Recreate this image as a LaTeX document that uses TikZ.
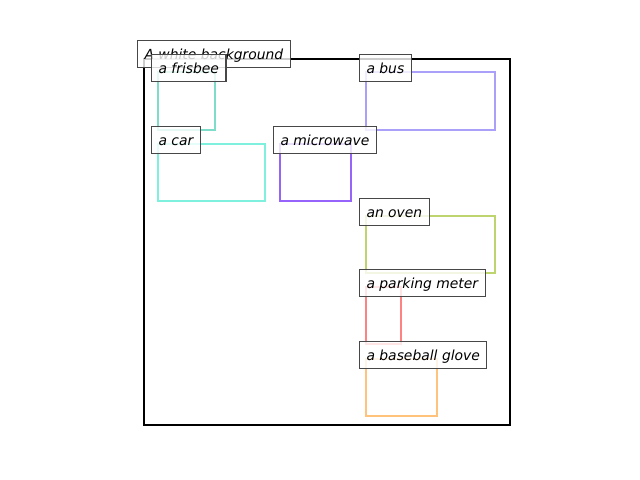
\documentclass[tikz,border=0pt]{standalone}
\usepackage{xcolor}
\usepackage{fontspec}
\setmainfont{DejaVu Sans}
\usepackage{tikz}

\definecolor{frisbeecol}{RGB}{126,220,200}
\definecolor{carcol}{RGB}{128,240,222}
\definecolor{buscol}{RGB}{170,160,250}
\definecolor{microcol}{RGB}{150,100,250}
\definecolor{ovencol}{RGB}{190,212,110}
\definecolor{metercol}{RGB}{255,130,130}
\definecolor{glovecol}{RGB}{255,195,125}

\tikzset{
    bbox/.style={line width=2.15pt},
    lbl/.style={draw=black!72,line width=0.8pt,fill=white,fill opacity=0.8,text opacity=1,
        anchor=west,inner xsep=5pt,inner ysep=0pt,minimum height=19.4pt,
        text height=9pt,text depth=1.8pt,
        font=\fontsize{10}{12}\selectfont\itshape}
}

\begin{document}
\begin{tikzpicture}[x=0.72pt,y=-0.72pt]
    \useasboundingbox (0,0) rectangle (640,480);
    \draw[line width=2.15pt] (144,59) rectangle (510,425);
    \draw[bbox,frisbeecol] (158,72) rectangle (215,130);
    \draw[bbox,buscol] (366,72) rectangle (495,130);
    \draw[bbox,carcol] (158,144) rectangle (265,201);
    \draw[bbox,microcol] (280,144) rectangle (351,201);
    \draw[bbox,ovencol] (366,216) rectangle (495,273);
    \draw[bbox,metercol] (366,287) rectangle (401,344);
    \draw[bbox,glovecol] (366,359) rectangle (437,416);
    \node[lbl] (bg) at (137,54) {A white background};
    \node[lbl] (frisbee) at (151,68) {a frisbee};
    \node[lbl] (bus) at (359,68) {a bus};
    \node[lbl] (car) at (151,140) {a car};
    \node[lbl] (microwave) at (273,140) {a microwave};
    \node[lbl] (oven) at (359,212) {an oven};
    \node[lbl] (meter) at (359,283) {a parking meter};
    \node[lbl] (glove) at (359,355) {a baseball glove};
\end{tikzpicture}
\end{document}
